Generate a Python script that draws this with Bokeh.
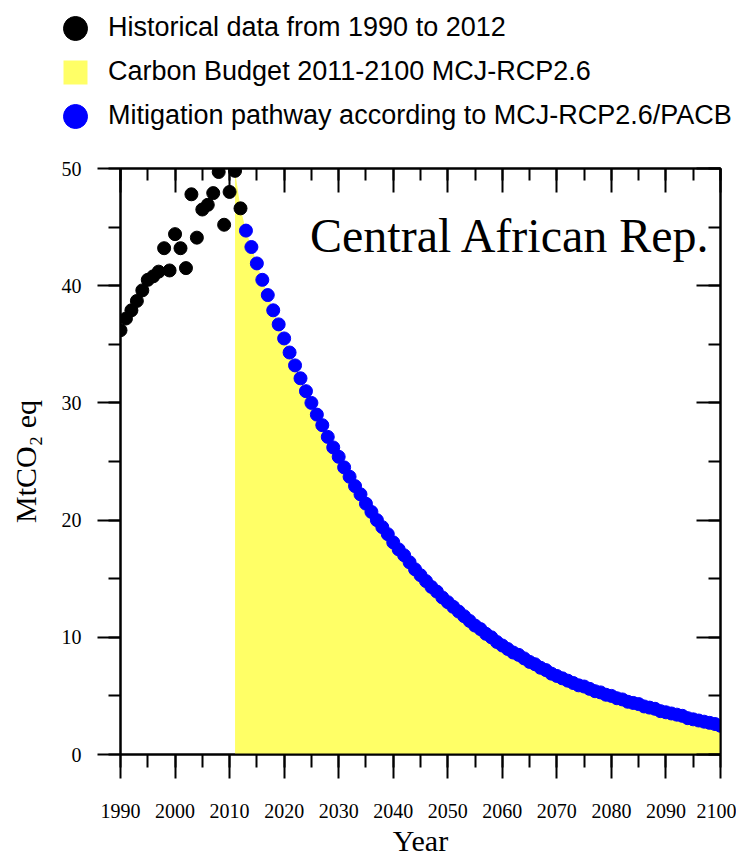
from bokeh.plotting import figure
from bokeh.models import (Range1d, LinearAxis, Legend, LegendItem, Label,
                          SingleIntervalTicker)
from bokeh.embed import file_html
from bokeh.resources import INLINE

# ---- data ----
hist_years = list(range(1990, 2013))
hist_values = [36.2, 37.2, 37.9, 38.7, 39.6, 40.5, 40.8, 41.2, 43.2, 41.3,
               44.4, 43.2, 41.5, 47.8, 44.1, 46.5, 46.9, 47.9, 49.7, 45.2,
               48.0, 49.8, 46.6]

path_years = list(range(2013, 2101))
path_values = [44.7, 43.3, 41.9, 40.5, 39.2, 37.9, 36.7, 35.5, 34.3, 33.2,
               32.1, 31.0, 30.0, 29.0, 28.1, 27.1, 26.2, 25.4, 24.5, 23.7,
               22.9, 22.2, 21.4, 20.7, 20.0, 19.4, 18.8, 18.1, 17.5, 17.0,
               16.4, 15.8, 15.3, 14.8, 14.3, 13.9, 13.4, 13.0, 12.6, 12.2,
               11.8, 11.4, 11.0, 10.7, 10.3, 10.0, 9.6, 9.3, 9.0, 8.7,
               8.5, 8.2, 7.9, 7.7, 7.4, 7.2, 6.9, 6.7, 6.5, 6.3,
               6.1, 5.9, 5.8, 5.6, 5.4, 5.3, 5.1, 5.0, 4.8, 4.7,
               4.5, 4.4, 4.3, 4.1, 4.0, 3.9, 3.7, 3.6, 3.5, 3.4,
               3.3, 3.1, 3.0, 2.9, 2.8, 2.7, 2.6, 2.45]

budget_start = 2011
budget_years = [y for y in hist_years if y >= budget_start] + path_years
budget_values = [v for y, v in zip(hist_years, hist_values) if y >= budget_start] + path_values

legend_labels = ["Historical data from 1990 to 2012",
                 "Carbon Budget 2011-2100 MCJ-RCP2.6",
                 "Mitigation pathway according to MCJ-RCP2.6/PACB"]
country = "Central African Rep."

SERIF = "Liberation Serif"
SANS = "Liberation Sans"
HIST_COLOR = "black"
BUDGET_COLOR = "#FFFF66"
PATH_COLOR = "#0000FF"


def add_series(fig):
    rb = fig.varea(x=budget_years, y1=0, y2=budget_values,
                   fill_color=BUDGET_COLOR)
    rp = fig.ellipse(x=path_years, y=path_values, width=13, height=13,
                     width_units="screen", height_units="screen",
                     fill_color=PATH_COLOR, line_color=PATH_COLOR)
    rh = fig.ellipse(x=hist_years, y=hist_values, width=13, height=13,
                     width_units="screen", height_units="screen",
                     fill_color=HIST_COLOR, line_color=HIST_COLOR)
    return rb, rp, rh


# ---------------- legend strip ----------------
leg = figure(width=742, height=150, x_range=Range1d(0, 1), y_range=Range1d(0, 1),
             output_backend="svg", toolbar_location=None,
             x_axis_location=None, y_axis_location=None,
             min_border_left=48, min_border_right=0,
             min_border_top=0, min_border_bottom=0)
leg.xgrid.visible = False
leg.ygrid.visible = False
leg.outline_line_color = None
lb, lp, lh = add_series(leg)   # off-range: only their legend keys show
legend = Legend(items=[LegendItem(label=legend_labels[0], renderers=[lh]),
                       LegendItem(label=legend_labels[1], renderers=[lb]),
                       LegendItem(label=legend_labels[2], renderers=[lp])],
                location="top_left", glyph_width=30, glyph_height=30,
                label_height=30, spacing=13, padding=0, margin=12,
                border_line_color=None, background_fill_alpha=0,
                label_standoff=18, label_text_font=SANS,
                label_text_font_size="27px", label_text_color="black")
leg.add_layout(legend)

# ---------------- main chart ----------------
p = figure(frame_width=600, frame_height=586,
           x_range=Range1d(1990, 2100), y_range=Range1d(0, 50),
           output_backend="svg", toolbar_location=None,
           min_border_left=120, min_border_right=16,
           min_border_top=18, min_border_bottom=100,
           x_axis_label="Year", y_axis_label="MtCO\u2082 eq")
p.xgrid.visible = False
p.ygrid.visible = False
p.outline_line_color = "black"
p.outline_line_width = 2

add_series(p)

for ax in (p.xaxis[0], p.yaxis[0]):
    ax.ticker = SingleIntervalTicker(interval=10, num_minor_ticks=2)
    ax.axis_line_width = 2
    ax.major_tick_line_width = 2
    ax.minor_tick_line_width = 2
    ax.major_tick_in = 0
    ax.minor_tick_in = 0
    ax.major_label_text_font = SERIF
    ax.major_label_text_color = "black"
    ax.axis_label_text_font = SERIF
    ax.axis_label_text_font_style = "normal"
    ax.axis_label_text_font_size = "30px"
    ax.axis_label_text_color = "black"

p.xaxis[0].major_tick_out = 24
p.xaxis[0].minor_tick_out = 13
p.xaxis[0].major_label_text_font_size = "20px"
p.xaxis[0].major_label_standoff = 25
p.xaxis[0].axis_label_standoff = 3

p.yaxis[0].major_tick_out = 23
p.yaxis[0].minor_tick_out = 12
p.yaxis[0].major_label_text_font_size = "20px"
p.yaxis[0].major_label_standoff = 16
p.yaxis[0].axis_label_standoff = 17

for side in ("above", "right"):
    ax = LinearAxis(ticker=SingleIntervalTicker(interval=10, num_minor_ticks=2),
                    major_tick_in=24, major_tick_out=0,
                    minor_tick_in=12, minor_tick_out=0,
                    axis_line_width=2, major_tick_line_width=2,
                    minor_tick_line_width=2,
                    major_label_text_color=None,
                    major_label_text_font_size="8px", major_label_standoff=0)
    p.add_layout(ax, side)

p.add_layout(Label(x=2098.3, y=44.3, text=country, text_align="right",
                   text_baseline="alphabetic", text_font=SERIF,
                   text_font_size="48px", text_color="black"))

open("out.html", "w").write(file_html([leg, p], INLINE))
